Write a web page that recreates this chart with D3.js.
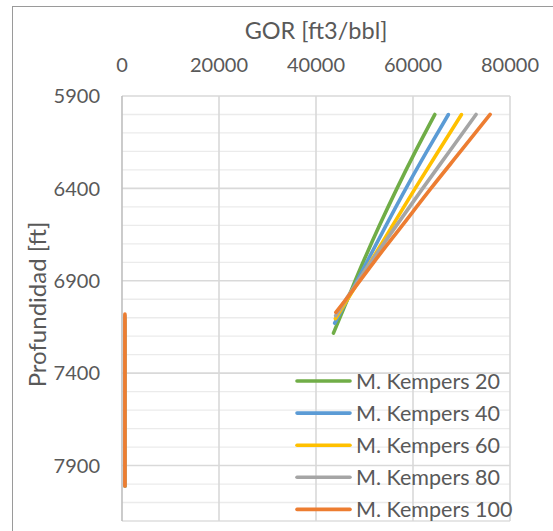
<!DOCTYPE html>
<html>
<head>
<meta charset="utf-8">
<script src="https://cdn.jsdelivr.net/npm/d3@7"></script>
<style>
  html, body { margin: 0; padding: 0; background: #fff; }
  svg { display: block; }
  text { font-family: Lato, "Open Sans", sans-serif; fill: #595959; }
</style>
</head>
<body>
<svg id="chart" width="553" height="531"></svg>
<script>
// ---- data ----
const seriesNames = ["M. Kempers 20", "M. Kempers 40", "M. Kempers 60", "M. Kempers 80", "M. Kempers 100"];
const seriesColors = ["#70AD47", "#5B9BD5", "#FFC000", "#A5A5A5", "#ED7D31"];

const depthK20 = [6000, 6200, 6400, 6600, 6800, 7000, 7183];
const gorK20 = [64500, 60500, 56700, 53100, 49700, 46500, 43600];
const depthK40 = [6000, 6200, 6400, 6600, 6800, 7000, 7129];
const gorK40 = [67300, 62850, 58550, 54450, 50450, 46500, 43850];
const depthK60 = [6000, 6200, 6400, 6600, 6800, 7000, 7105];
const gorK60 = [70000, 65200, 60450, 55800, 51200, 46500, 44000];
const depthK80 = [6000, 6200, 6400, 6600, 6800, 7000, 7089];
const gorK80 = [73000, 67500, 62000, 56600, 51300, 46200, 44050];
const depthK100 = [6000, 6200, 6400, 6600, 6800, 7000, 7071];
const gorK100 = [75900, 69800, 63700, 57800, 51900, 46200, 44100];

// lower (separate) segment of each series, near GOR ~ 0
const lowDepthK20 = [7183, 8010];
const lowGorK20 = [650, 650];
const lowDepthK40 = [7129, 8010];
const lowGorK40 = [620, 620];
const lowDepthK60 = [7105, 8010];
const lowGorK60 = [610, 610];
const lowDepthK80 = [7089, 8010];
const lowGorK80 = [600, 600];
const lowDepthK100 = [7080, 8010];
const lowGorK100 = [600, 600];

const xTicks = [0, 20000, 40000, 60000, 80000];
const yTicks = [5900, 6400, 6900, 7400, 7900];
const yMinorStep = 100;
const xDomain = [0, 80000];
const yDomain = [5900, 8200];
const xTitle = "GOR [ft3/bbl]";
const yTitle = "Profundidad [ft]";

const upper = [[depthK20, gorK20], [depthK40, gorK40], [depthK60, gorK60], [depthK80, gorK80], [depthK100, gorK100]];
const lower = [[lowDepthK20, lowGorK20], [lowDepthK40, lowGorK40], [lowDepthK60, lowGorK60], [lowDepthK80, lowGorK80], [lowDepthK100, lowGorK100]];

// ---- layout ----
const svg = d3.select("#chart");
const L = 122, R = 510, T = 96, B = 521;
const x = d3.scaleLinear().domain(xDomain).range([L, R]);
const y = d3.scaleLinear().domain(yDomain).range([T, B]);

// outer chart border
svg.append("rect").attr("x", 12.5).attr("y", 6.5).attr("width", 600).attr("height", 600)
  .attr("fill", "none").attr("stroke", "#9a9a9a").attr("stroke-width", 1);

// minor horizontal gridlines
const minor = d3.range(yDomain[0], yDomain[1] + 1, yMinorStep).filter(v => (v - yDomain[0]) % 500 !== 0);
svg.append("g").selectAll("line").data(minor).join("line")
  .attr("x1", L).attr("x2", R).attr("y1", d => y(d)).attr("y2", d => y(d))
  .attr("stroke", "#EBEBEB").attr("stroke-width", 1.3);

// major horizontal gridlines
svg.append("g").selectAll("line").data(yTicks).join("line")
  .attr("x1", L).attr("x2", R).attr("y1", d => y(d)).attr("y2", d => y(d))
  .attr("stroke", "#D9D9D9").attr("stroke-width", 1.6);

// bottom edge
svg.append("line").attr("x1", L).attr("x2", R).attr("y1", y(yDomain[1])).attr("y2", y(yDomain[1]))
  .attr("stroke", "#E3E3E3").attr("stroke-width", 1.3);

// vertical major gridlines
svg.append("g").selectAll("line").data(xTicks.slice(1)).join("line")
  .attr("x1", d => x(d)).attr("x2", d => x(d)).attr("y1", T).attr("y2", B)
  .attr("stroke", "#D9D9D9").attr("stroke-width", 1.6);

// left axis line
svg.append("line").attr("x1", x(0)).attr("x2", x(0)).attr("y1", T).attr("y2", B)
  .attr("stroke", "#BFBFBF").attr("stroke-width", 1.6);

// x tick labels (top)
svg.append("g").selectAll("text").data(xTicks).join("text")
  .attr("x", d => x(d)).attr("y", 72).attr("text-anchor", "middle")
  .attr("font-size", 20).text(d => d);

// y tick labels
svg.append("g").selectAll("text").data(yTicks).join("text")
  .attr("x", 100).attr("y", d => y(d)).attr("dy", "0.36em").attr("text-anchor", "end")
  .attr("font-size", 20).text(d => d);

// axis titles
svg.append("text").attr("x", (L + R) / 2).attr("y", 39).attr("text-anchor", "middle")
  .attr("font-size", 23.5).text(xTitle);
svg.append("text").attr("transform", `translate(46,${(T + B) / 2 - 4}) rotate(-90)`)
  .attr("text-anchor", "middle").attr("font-size", 24).text(yTitle);

// series
const line = d3.line().x(d => x(d[1])).y(d => y(d[0])).curve(d3.curveMonotoneY);
const toPts = pair => pair[0].map((dep, i) => [dep, pair[1][i]]);
const gSeries = svg.append("g");
seriesNames.forEach((name, i) => {
  [upper[i], lower[i]].forEach(seg => {
    gSeries.append("path").attr("d", line(toPts(seg)))
      .attr("fill", "none").attr("stroke", seriesColors[i]).attr("stroke-width", 3.6)
      .attr("stroke-linecap", "round").attr("stroke-linejoin", "round");
  });
});

// legend
const lg = svg.append("g");
seriesNames.forEach((name, i) => {
  const yy = 381 + i * 32.1;
  lg.append("line").attr("x1", 297).attr("x2", 350).attr("y1", yy).attr("y2", yy)
    .attr("stroke", seriesColors[i]).attr("stroke-width", 3.6).attr("stroke-linecap", "round");
  lg.append("text").attr("x", 356).attr("y", yy).attr("dy", "0.36em")
    .attr("font-size", 21.5).text(name);
});
</script>
</body>
</html>
